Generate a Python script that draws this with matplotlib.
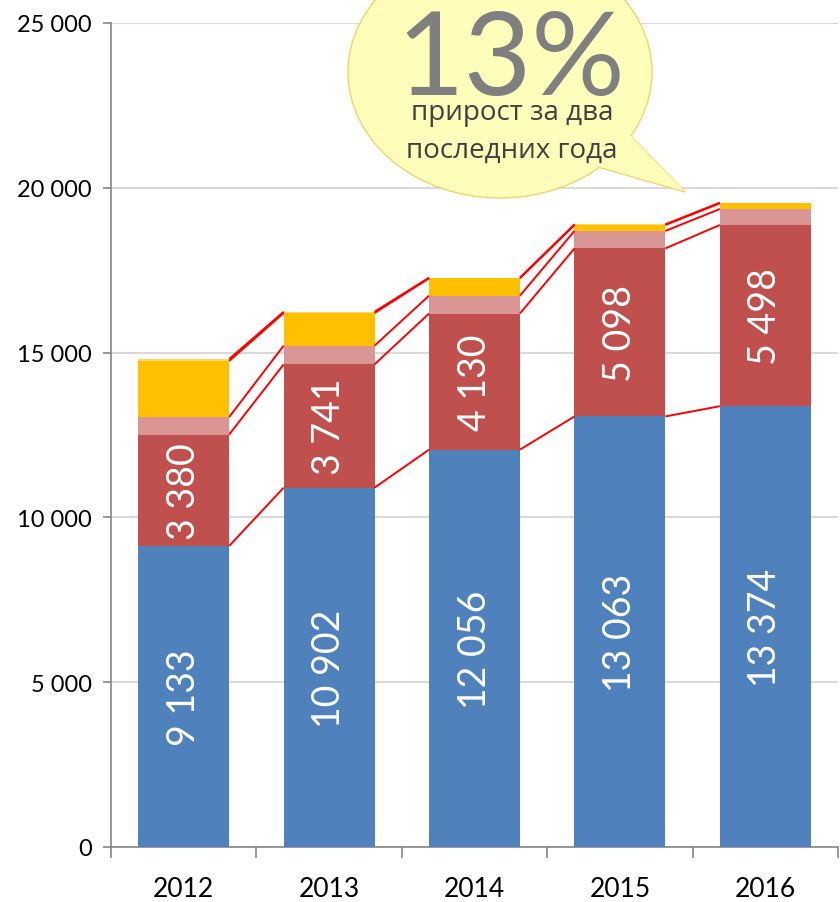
import matplotlib
matplotlib.use("Agg")
import matplotlib.pyplot as plt
from matplotlib.patches import Ellipse, Polygon
import numpy as np

years = ["2012", "2013", "2014", "2015", "2016"]
blue = [9133, 10902, 12056, 13063, 13374]
red = [3380, 3741, 4130, 5098, 5498]
pink = [530, 567, 541, 530, 485]
yellow = [1700, 990, 527, 180, 173]
top = [60, 40, 20, 20, 20]
yticks = [0, 5000, 10000, 15000, 20000, 25000]
ytick_labels = ["0", "5 000", "10 000", "15 000", "20 000", "25 000"]
blue_labels = ["9 133", "10 902", "12 056", "13 063", "13 374"]
red_labels = ["3 380", "3 741", "4 130", "5 098", "5 498"]
callout_big = "13%"
callout_text = "прирост за два\nпоследних года"

plt.rcParams['font.family'] = ['Lato', 'DejaVu Sans']

fig = plt.figure(figsize=(8.4, 9.03), dpi=100)
ax = fig.add_axes([111/840, 1-848/903, (838-111)/840, (848-24)/903])

x = np.arange(len(years))
w = 0.625
series = [blue, red, pink, yellow, top]
colors = ["#4F81BD", "#C0504D", "#D99694", "#FFC000", "#FFD966"]
bottom = np.zeros(len(years))
tops = []
for vals, c in zip(series, colors):
    v = np.array(vals, dtype=float)
    ax.bar(x, v, w, bottom=bottom, color=c, zorder=3, linewidth=0)
    bottom = bottom + v
    tops.append(bottom.copy())

# series lines
for t in tops:
    for i in range(len(years) - 1):
        ax.plot([x[i] + w/2, x[i+1] - w/2], [t[i], t[i+1]], color="#FF0000",
                lw=1.4, zorder=4, solid_capstyle='butt')

# value labels
for i in range(len(years)):
    ax.text(x[i], blue[i]/2, blue_labels[i], rotation=90, ha='center', va='center',
            color='white', fontsize=27, zorder=5)
    ax.text(x[i], blue[i] + red[i]/2, red_labels[i], rotation=90, ha='center', va='center',
            color='white', fontsize=27, zorder=5)

ax.set_xlim(-0.5, 4.5)
ax.set_ylim(0, 25000)
ax.set_yticks(yticks)
ax.set_yticklabels(ytick_labels, fontsize=17)
ax.set_xticks(x)
ax.set_xticklabels(years, fontsize=19)
ax.set_xticks(np.arange(-0.5, 5, 1), minor=True)
ax.tick_params(axis='x', which='major', length=0, pad=21)
ax.tick_params(axis='x', which='minor', length=8, color='#868686', width=1.2)
ax.tick_params(axis='y', length=6, color='#868686', width=1.2, pad=8)
ax.yaxis.grid(True, color='#D9D9D9', lw=1.5, zorder=0)
ax.set_axisbelow(True)
for s in ['top', 'right']:
    ax.spines[s].set_visible(False)
for s in ['left', 'bottom']:
    ax.spines[s].set_color('#868686')
    ax.spines[s].set_linewidth(1.2)

# callout bubble in figure pixel coords
def px(xp, yp):
    return (xp/840, 1 - yp/903)

cx, cy = px(500, 73)
ell = Ellipse((cx, cy), 304/840, 252/903, transform=fig.transFigure,
              facecolor='#FFFDBA', edgecolor='#F2D36B', lw=1.0, zorder=10)
fig.add_artist(ell)
tail = Polygon([px(632, 138), px(685, 193), px(598, 168)], closed=True,
               transform=fig.transFigure, facecolor='#FFFDBA', edgecolor='#F2D36B',
               lw=1.0, zorder=9)
fig.add_artist(tail)
tail2 = Polygon([px(628, 134), px(684, 192), px(594, 166)], closed=True,
                transform=fig.transFigure, facecolor='#FFFDBA', edgecolor='none',
                zorder=11)
fig.add_artist(tail2)

fig.text(*px(511, 95), callout_big, ha='center', va='baseline', fontsize=84,
         color='#7F7F7F', family=['Lato', 'DejaVu Sans'], zorder=12)
fig.text(*px(512, 132), callout_text, ha='center', va='center', fontsize=20,
         color='#404040', family=['Open Sans', 'DejaVu Sans'], linespacing=1.5, zorder=12)

fig.savefig("out.png", dpi=100)
